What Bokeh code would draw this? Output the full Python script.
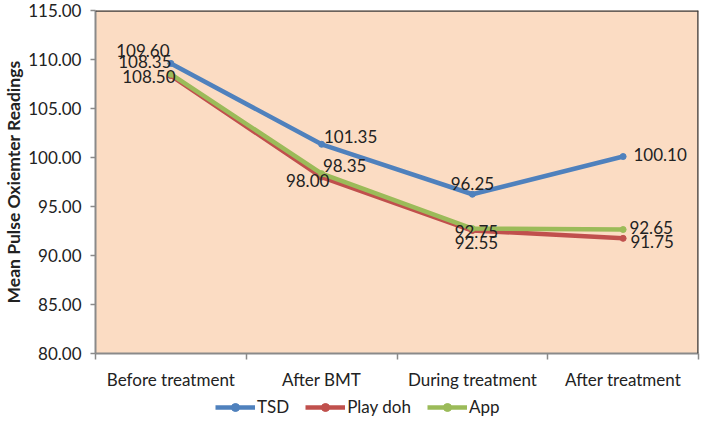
import numpy as np
from bokeh.plotting import figure
from bokeh.layouts import column
from bokeh.models import Range1d, FixedTicker, Legend, LegendItem, Span, ColumnDataSource, NumeralTickFormatter
from bokeh.core.properties import value
from bokeh.embed import file_html
from bokeh.resources import INLINE

# ---- data ----
categories = ["Before treatment", "After BMT", "During treatment", "After treatment"]
tsd = [109.60, 101.35, 96.25, 100.10]
play_doh = [108.35, 98.00, 92.55, 91.75]
app = [108.50, 98.35, 92.75, 92.65]
y_ticks = [80, 85, 90, 95, 100, 105, 110, 115]

# ---- styles ----
FONT = "Lato"
TXT = "#222222"
series = [
    ("TSD", tsd, "#4F81BD", [-28, 29, 0, 37], [-13, -8, -11, -2]),
    ("Play doh", play_doh, "#C0504D", [-26, -14, 4, 29], [-14, 3, 12, 3]),
    ("App", app, "#9BBB59", [-22, 23, 4, 28], [2, -8, 3, -2]),
]

xs = np.arange(len(categories)) + 0.5

p = figure(width=704, height=393, output_backend="svg", toolbar_location=None,
           x_range=Range1d(0, len(categories)), y_range=Range1d(80, 115),
           min_border_left=95, min_border_right=6, min_border_top=10, min_border_bottom=40)
p.background_fill_color = "#FBDCC3"
p.border_fill_color = "white"
p.outline_line_color = None
p.xgrid.visible = False
p.ygrid.visible = False

# axes
p.yaxis.ticker = FixedTicker(ticks=y_ticks)
p.yaxis.formatter = NumeralTickFormatter(format="0.00")
p.yaxis.axis_label = "Mean Pulse Oxiemter Readings"
p.yaxis.axis_label_text_font = FONT
p.yaxis.axis_label_text_font_style = "bold"
p.yaxis.axis_label_text_font_size = "17.5px"
p.yaxis.axis_label_text_color = TXT
p.yaxis.axis_label_standoff = 1
p.yaxis.major_label_standoff = 9
p.yaxis.minor_tick_line_color = None

p.xaxis.ticker = FixedTicker(ticks=list(xs), minor_ticks=list(range(len(categories) + 1)))
p.xaxis.major_label_overrides = {float(x): c for x, c in zip(xs, categories)}
p.xaxis.major_tick_line_color = None
p.xaxis.minor_tick_out = 6
p.xaxis.minor_tick_in = 0
p.xaxis.major_label_standoff = 9

for ax in (p.xaxis, p.yaxis):
    ax.axis_line_color = "#8a8a8a"
    ax.axis_line_width = 2
    ax.major_label_text_font = FONT
    ax.major_label_text_font_size = "17px"
    ax.major_label_text_color = TXT
p.yaxis.major_tick_line_color = "#8a8a8a"
p.yaxis.major_tick_line_width = 1.5
p.yaxis.major_tick_out = 5
p.yaxis.major_tick_in = 0
p.xaxis.minor_tick_line_color = "#8a8a8a"
p.xaxis.minor_tick_line_width = 1.5

# top/right frame border
p.add_layout(Span(location=115, dimension="width", line_color="#3a3a3a", line_width=2.5))
p.add_layout(Span(location=len(categories), dimension="height", line_color="#3a3a3a", line_width=2.5))

for name, vals, color, dx, dy in series:
    src = ColumnDataSource(dict(x=xs, y=vals))
    p.line("x", "y", source=src, line_color=color, line_width=4.5)
    p.scatter("x", "y", source=src, size=6, color=color)

for name, vals, color, dx, dy in series:
    src = ColumnDataSource(dict(x=xs, y=vals, lbl=[f"{v:.2f}" for v in vals], dx=dx, dy=dy))
    p.text("x", "y", text="lbl", source=src, x_offset="dx", y_offset="dy",
           text_font=value(FONT), text_font_size="17px", text_color=TXT,
           text_align="center", text_baseline="middle")

# legend strip below the chart (its own ranges keep the series out of view)
lg = figure(width=704, height=28, output_backend="svg", toolbar_location=None,
            x_axis_location=None, y_axis_location=None, min_border=0,
            x_range=Range1d(0, 1), y_range=Range1d(0, 1))
lg.outline_line_color = None
lg.xgrid.visible = False
lg.ygrid.visible = False
lg.background_fill_color = "white"
lg.border_fill_color = "white"
items = []
for name, vals, color, dx, dy in series:
    src = ColumnDataSource(dict(x=xs, y=vals))
    ln = lg.line("x", "y", source=src, line_color=color, line_width=4.5)
    mk = lg.scatter("x", "y", source=src, size=5, color=color)
    items.append(LegendItem(label=name, renderers=[ln, mk]))
legend = Legend(items=items, orientation="horizontal", location=(120, 4),
                label_text_font=FONT, label_text_font_size="17px", label_text_color=TXT,
                glyph_width=40, glyph_height=20, label_standoff=2, spacing=16,
                padding=0, margin=0, border_line_color=None, background_fill_alpha=0)
lg.add_layout(legend, "center")

layout = column(p, lg, spacing=0)
open("out.html", "w").write(file_html(layout, INLINE))
